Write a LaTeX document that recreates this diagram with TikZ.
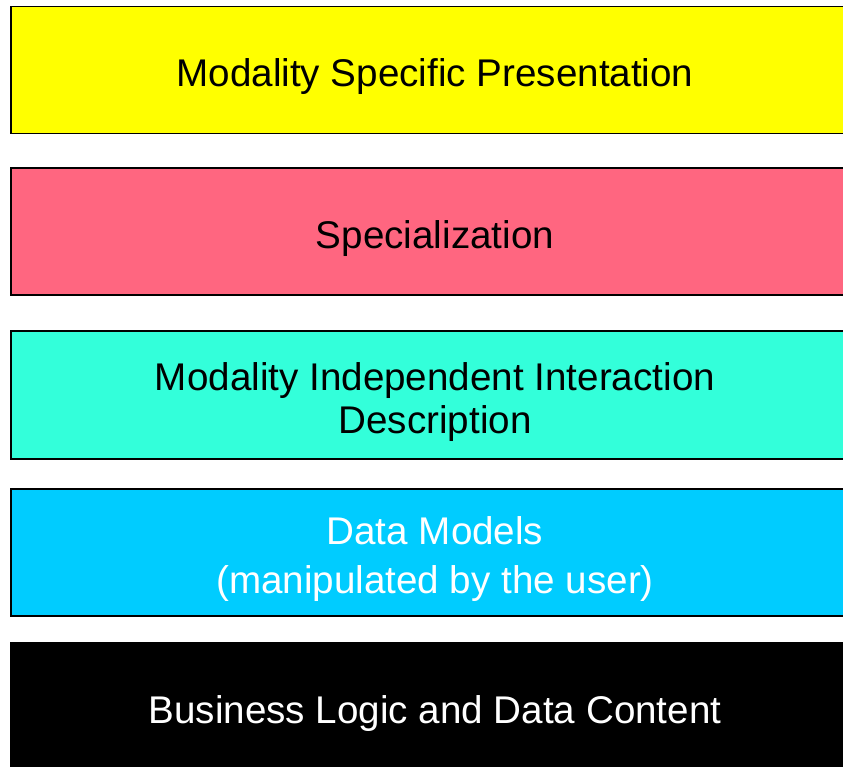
\documentclass[tikz,border=0pt]{standalone}
\usepackage{fontspec}
\setmainfont{Liberation Sans}
\usepackage{xcolor}
\definecolor{presyellow}{RGB}{255,255,0}
\definecolor{specpink}{RGB}{255,102,128}
\definecolor{interturq}{RGB}{51,255,218}
\definecolor{datacyan}{RGB}{0,204,255}

\begin{document}
\begin{tikzpicture}[x=1pt,y=-1pt,
		layer/.style={draw=black, line width=1.5pt, minimum width=848pt,
			minimum height=127pt, inner sep=0pt},
		layertext/.style={inner sep=0pt, align=center, yshift=-7pt,
			font=\fontsize{38.6}{43}\selectfont}]
		\useasboundingbox (0,0) rectangle (843,767);
		\node[layer, fill=presyellow] (present) at (435,70) {};
		\node[layertext] (presentlbl) at (present.center)
			{Modality Specific Presentation};
		\node[layer, fill=specpink] (special) at (435,231.5) {};
		\node[layertext] (speciallbl) at (special.center)
			{Specialization};
		\node[layer, fill=interturq, minimum height=128pt] (interact) at (435,395) {};
		\node[layertext] (interactlbl) at (interact.center)
			{Modality Independent Interaction\\Description};
		\node[layer, fill=datacyan] (datamod) at (435,552.5) {};
		\node[layertext, text=white, font=\fontsize{38.6}{49}\selectfont]
			(datamodlbl) at (datamod.center)
			{Data Models\\(manipulated by the user)};
		\node[layer, fill=black] (business) at (435,706.5) {};
		\node[layertext, text=white] (businesslbl) at (business.center)
			{Business Logic and Data Content};
	\end{tikzpicture}
\end{document}
